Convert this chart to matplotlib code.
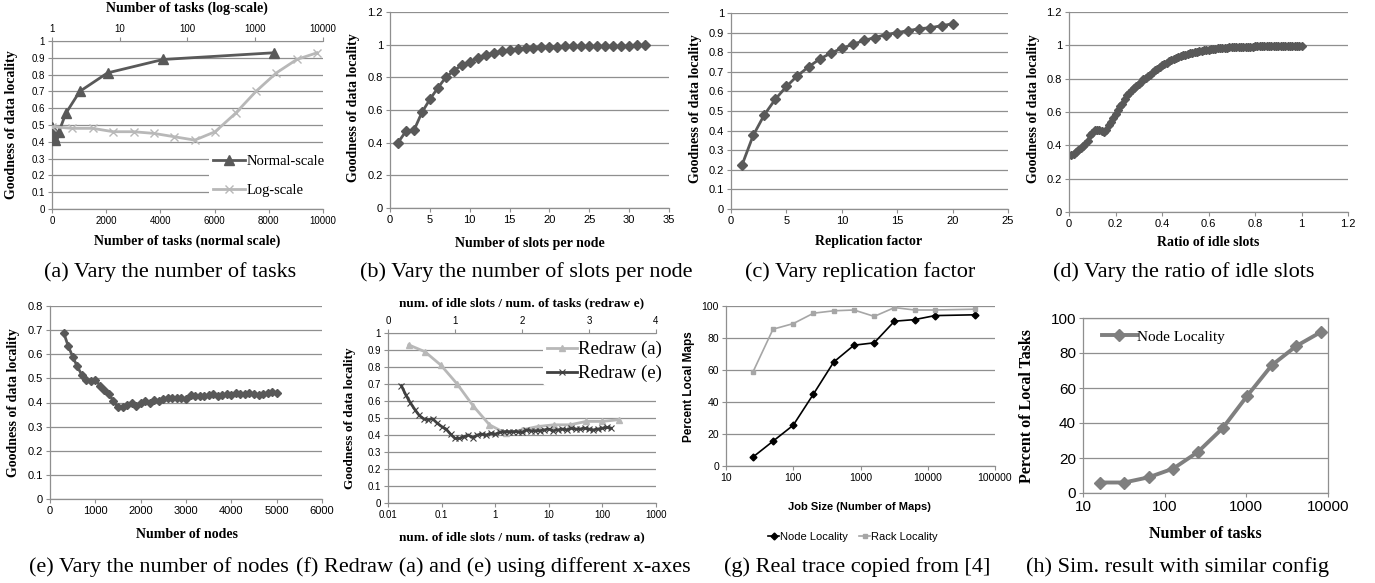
import matplotlib
matplotlib.use("Agg")
import matplotlib.pyplot as plt
from matplotlib.ticker import FixedLocator, NullLocator, FuncFormatter

# ---------------- data ----------------
# (a) number of tasks vs goodness of data locality
tasks_a = [1, 2, 4, 8, 16, 32, 64, 128, 256, 512, 1024, 2048, 4096, 8192]
locality_a = [0.49, 0.48, 0.48, 0.46, 0.46, 0.45, 0.43, 0.41, 0.46, 0.57, 0.70, 0.81, 0.89, 0.93]

# (b) slots per node
slots_b = list(range(1, 33))
locality_b = [0.40, 0.47, 0.475, 0.585, 0.665, 0.735, 0.80, 0.84, 0.875, 0.895, 0.92, 0.935,
              0.95, 0.96, 0.965, 0.972, 0.977, 0.98, 0.983, 0.985, 0.988, 0.99, 0.99, 0.99,
              0.99, 0.99, 0.99, 0.99, 0.99, 0.992, 0.995, 0.995]

# (c) replication factor
repl_c = list(range(1, 21))
locality_c = [0.225, 0.375, 0.48, 0.56, 0.625, 0.68, 0.725, 0.765, 0.795, 0.82, 0.84, 0.86,
              0.875, 0.89, 0.90, 0.91, 0.92, 0.925, 0.935, 0.945]

# (d) ratio of idle slots
ratio_d = [round(0.01 * i, 2) for i in range(1, 101)]
locality_d = [0.345, 0.35, 0.36, 0.37, 0.385, 0.395, 0.41, 0.425, 0.46, 0.475,
              0.49, 0.495, 0.49, 0.485, 0.48, 0.49, 0.52, 0.54, 0.565, 0.59,
              0.61, 0.635, 0.65, 0.68, 0.70, 0.715, 0.73, 0.745, 0.755, 0.77,
              0.78, 0.795, 0.805, 0.815, 0.825, 0.84, 0.85, 0.86, 0.87, 0.88,
              0.885, 0.895, 0.905, 0.91, 0.92, 0.925, 0.93, 0.935, 0.94, 0.945,
              0.948, 0.952, 0.955, 0.958, 0.962, 0.965, 0.968, 0.97, 0.972, 0.974,
              0.976, 0.978, 0.98, 0.981, 0.983, 0.984, 0.985, 0.986, 0.987, 0.988,
              0.989, 0.989, 0.99, 0.99, 0.99, 0.991, 0.991, 0.992, 0.992, 0.993,
              0.993, 0.993, 0.994, 0.994, 0.994, 0.995, 0.995, 0.995, 0.995, 0.996,
              0.996, 0.996, 0.996, 0.996, 0.997, 0.997, 0.997, 0.997, 0.997, 0.997]

# (e) number of nodes
nodes_e = list(range(300, 5001, 100))
locality_e = [0.69, 0.635, 0.59, 0.55, 0.515, 0.495, 0.49, 0.495, 0.47, 0.45,
              0.435, 0.405, 0.38, 0.38, 0.39, 0.40, 0.385, 0.40, 0.405, 0.40,
              0.41, 0.405, 0.415, 0.42, 0.42, 0.42, 0.42, 0.415, 0.43, 0.425,
              0.425, 0.425, 0.43, 0.435, 0.425, 0.43, 0.435, 0.43, 0.44, 0.435,
              0.435, 0.44, 0.435, 0.43, 0.435, 0.44, 0.445, 0.44]

# (f) redraw: x = idle slots / tasks
idle_slots_a = 200      # idle slots used in (a)
tasks_e = 1500          # tasks used in (e)
ratio_fa = [idle_slots_a / t for t in tasks_a]
ratio_fe = [n / tasks_e for n in nodes_e]

# (g) real trace
job_size_g = [25, 50, 100, 200, 400, 800, 1600, 3200, 6400, 12800, 50000]
node_loc_g = [5.5, 15.5, 25.5, 45, 65, 75.5, 77, 90.5, 91.5, 94, 94.5]
rack_loc_g = [58.5, 85.5, 89, 95.5, 97, 97.5, 93.5, 99, 97.5, 97.5, 98]

# (h) simulation
tasks_h = [16, 32, 64, 128, 256, 512, 1024, 2048, 4096, 8192]
node_loc_h = [6, 6, 9, 14, 23.5, 37, 55.5, 73, 84, 92]

captions = ["(a) Vary the number of tasks", "(b) Vary the number of slots per node",
            "(c) Vary replication factor", "(d) Vary the ratio of idle slots",
            "(e) Vary the number of nodes", "(f) Redraw (a) and (e) using different x-axes",
            "(g) Real trace copied from [4]", "(h) Sim. result with similar config"]

# ---------------- style ----------------
W, H = 1375, 583
fig = plt.figure(figsize=(W / 100, H / 100), dpi=100)
fig.patch.set_facecolor("white")

SERIF = "Liberation Serif"
SANS = "Liberation Sans"
GRID = "#8f8f8f"
AXC = "#8f8f8f"
DARK = "#595959"
LIGHT = "#b8b8b8"


def rect(l, r, t, b):
    return [l / W, 1 - b / H, (r - l) / W, (b - t) / H]


def ftext(x, y, s, **kw):
    kw.setdefault("ha", "center")
    kw.setdefault("va", "center")
    fig.text(x / W, 1 - y / H, s, **kw)


def excel(ax, fs=8, family=SANS, box=False):
    for side in ["top", "right"]:
        ax.spines[side].set_visible(box)
    for s in ax.spines.values():
        s.set_color(AXC)
        s.set_linewidth(0.9)
    ax.tick_params(direction="out", length=3, width=0.8, color=AXC, labelsize=fs, pad=2)
    for lab in ax.get_xticklabels() + ax.get_yticklabels():
        lab.set_fontfamily(family)
    ax.yaxis.grid(True, color=GRID, linewidth=0.9)
    ax.set_axisbelow(True)


def fmt_g(v, pos):
    return "%g" % v


# ---------------- (a) ----------------
ax = fig.add_axes(rect(52, 323, 41, 209))
ax.plot(tasks_a, locality_a, color=DARK, lw=2, marker="^", ms=6.5, label="Normal-scale", zorder=3)
ax.set_xlim(0, 10000)
ax.set_ylim(0, 1)
ax.xaxis.set_major_locator(FixedLocator([0, 2000, 4000, 6000, 8000, 10000]))
ax.yaxis.set_major_locator(FixedLocator([i / 10 for i in range(11)]))
ax.yaxis.set_major_formatter(FuncFormatter(fmt_g))
excel(ax, fs=7)
ax2 = ax.twiny()
ax2.plot(tasks_a, locality_a, color=LIGHT, lw=2, marker="x", ms=6, mew=1, label="Log-scale", zorder=2)
ax2.set_xscale("log")
ax2.set_xlim(1, 10000)
ax2.xaxis.set_major_locator(FixedLocator([1, 10, 100, 1000, 10000]))
ax2.xaxis.set_minor_locator(NullLocator())
ax2.xaxis.set_major_formatter(FuncFormatter(fmt_g))
for side in ["right", "bottom", "left"]:
    ax2.spines[side].set_visible(False)
ax2.spines["top"].set_color(AXC)
ax2.tick_params(direction="out", length=3, width=0.8, color=AXC, labelsize=7, pad=2)
for lab in ax2.get_xticklabels():
    lab.set_fontfamily(SANS)
h1, l1 = ax.get_legend_handles_labels()
h2, l2 = ax2.get_legend_handles_labels()
ax2.legend(h1 + h2, l1 + l2, loc="lower right", bbox_to_anchor=(1.05, 0.0),
           prop={"family": SERIF, "size": 10.5}, frameon=True, facecolor="white",
           edgecolor="none", framealpha=1, handlelength=2.2, handletextpad=0.1,
           labelspacing=1.1, borderpad=0.3)
ftext(187, 8, "Number of tasks (log-scale)", family=SERIF, weight="bold", size=10)
ftext(187, 241, "Number of tasks (normal scale)", family=SERIF, weight="bold", size=10)
ftext(12, 125, "Goodness of data locality", family=SERIF, weight="bold", size=10, rotation=90)

# ---------------- (b) ----------------
ax = fig.add_axes(rect(390, 669, 12, 208))
ax.plot(slots_b, locality_b, color=DARK, lw=2, marker="D", ms=5)
ax.set_xlim(0, 35)
ax.set_ylim(0, 1.2)
ax.xaxis.set_major_locator(FixedLocator(range(0, 36, 5)))
ax.yaxis.set_major_locator(FixedLocator([0, 0.2, 0.4, 0.6, 0.8, 1.0, 1.2]))
ax.yaxis.set_major_formatter(FuncFormatter(fmt_g))
excel(ax, fs=8)
ftext(530, 243, "Number of slots per node", family=SERIF, weight="bold", size=10)
ftext(354, 108, "Goodness of data locality", family=SERIF, weight="bold", size=10, rotation=90)

# ---------------- (c) ----------------
ax = fig.add_axes(rect(731, 1008, 13, 209))
ax.plot(repl_c, locality_c, color=DARK, lw=2, marker="D", ms=5)
ax.set_xlim(0, 25)
ax.set_ylim(0, 1)
ax.xaxis.set_major_locator(FixedLocator(range(0, 26, 5)))
ax.yaxis.set_major_locator(FixedLocator([i / 10 for i in range(11)]))
ax.yaxis.set_major_formatter(FuncFormatter(fmt_g))
excel(ax, fs=8)
ftext(869, 242, "Replication factor", family=SERIF, weight="bold", size=10)
ftext(695, 109, "Goodness of data locality", family=SERIF, weight="bold", size=10, rotation=90)

# ---------------- (d) ----------------
ax = fig.add_axes(rect(1069, 1348, 12, 212))
ax.plot(ratio_d, locality_d, color=DARK, lw=2, marker="D", ms=4)
ax.set_xlim(0, 1.2)
ax.set_ylim(0, 1.2)
ax.xaxis.set_major_locator(FixedLocator([0, 0.2, 0.4, 0.6, 0.8, 1.0, 1.2]))
ax.yaxis.set_major_locator(FixedLocator([0, 0.2, 0.4, 0.6, 0.8, 1.0, 1.2]))
ax.xaxis.set_major_formatter(FuncFormatter(fmt_g))
ax.yaxis.set_major_formatter(FuncFormatter(fmt_g))
excel(ax, fs=8)
ftext(1208, 243, "Ratio of idle slots", family=SERIF, weight="bold", size=10)
ftext(1033, 109, "Goodness of data locality", family=SERIF, weight="bold", size=10, rotation=90)

# ---------------- (e) ----------------
ax = fig.add_axes(rect(50, 322, 306, 499))
ax.plot(nodes_e, locality_e, color=DARK, lw=2, marker="D", ms=4.5)
ax.set_xlim(0, 6000)
ax.set_ylim(0, 0.8)
ax.xaxis.set_major_locator(FixedLocator(range(0, 6001, 1000)))
ax.yaxis.set_major_locator(FixedLocator([i / 10 for i in range(9)]))
ax.yaxis.set_major_formatter(FuncFormatter(fmt_g))
excel(ax, fs=8)
ftext(187, 535, "Number of nodes", family=SERIF, weight="bold", size=10)
ftext(14, 403, "Goodness of data locality", family=SERIF, weight="bold", size=10, rotation=90)

# ---------------- (f) ----------------
ax = fig.add_axes(rect(388, 656, 333, 503))
ax.plot(ratio_fa, locality_a, color=LIGHT, lw=2, marker="^", ms=4, label="Redraw (a)", zorder=2)
ax.set_xscale("log")
ax.set_xlim(0.01, 1000)
ax.set_ylim(0, 1)
ax.xaxis.set_major_locator(FixedLocator([0.01, 0.1, 1, 10, 100, 1000]))
ax.xaxis.set_minor_locator(NullLocator())
ax.xaxis.set_major_formatter(FuncFormatter(fmt_g))
ax.yaxis.set_major_locator(FixedLocator([i / 10 for i in range(11)]))
ax.yaxis.set_major_formatter(FuncFormatter(fmt_g))
excel(ax, fs=7)
ax2 = ax.twiny()
ax2.plot(ratio_fe, locality_e, color="#404040", lw=2, marker="x", ms=4, mew=0.8, label="Redraw (e)", zorder=3)
ax2.set_xlim(0, 4)
ax2.xaxis.set_major_locator(FixedLocator([0, 1, 2, 3, 4]))
for side in ["right", "bottom", "left"]:
    ax2.spines[side].set_visible(False)
ax2.spines["top"].set_color(AXC)
ax2.tick_params(direction="out", length=3, width=0.8, color=AXC, labelsize=7, pad=2)
for lab in ax2.get_xticklabels():
    lab.set_fontfamily(SANS)
h1, l1 = ax.get_legend_handles_labels()
h2, l2 = ax2.get_legend_handles_labels()
ax2.legend(h1 + h2, l1 + l2, loc="upper right", bbox_to_anchor=(1.07, 1.03),
           prop={"family": SERIF, "size": 13.5}, frameon=True, facecolor="white",
           edgecolor="none", framealpha=1, handlelength=1.6, handletextpad=0.05,
           labelspacing=0.35, borderpad=0.2)
ftext(522, 303, "num. of idle slots / num. of tasks (redraw e)", family=SERIF, weight="bold", size=9.5)
ftext(522, 537, "num. of idle slots / num. of tasks (redraw a)", family=SERIF, weight="bold", size=9.5)
ftext(350, 418, "Goodness of data locality", family=SERIF, weight="bold", size=9.5, rotation=90)

# ---------------- (g) ----------------
ax = fig.add_axes(rect(726, 995, 306, 466))
ax.plot(job_size_g, node_loc_g, color="black", lw=1.2, marker="D", ms=3.5, label="Node Locality")
ax.plot(job_size_g, rack_loc_g, color="#a6a6a6", lw=1.2, marker="s", ms=3.5, label="Rack Locality")
ax.set_xscale("log")
ax.set_xlim(10, 100000)
ax.set_ylim(0, 100)
ax.xaxis.set_major_locator(FixedLocator([10, 100, 1000, 10000, 100000]))
ax.xaxis.set_minor_locator(NullLocator())
ax.xaxis.set_major_formatter(FuncFormatter(fmt_g))
ax.yaxis.set_major_locator(FixedLocator(range(0, 101, 20)))
excel(ax, fs=7.5)
ax.legend(loc="center", bbox_to_anchor=((853 - 726) / (995 - 726), 1 - (537 - 306) / (466 - 306)),
          ncol=2, frameon=False, prop={"family": SANS, "size": 8}, handlelength=1.0,
          handletextpad=0.1, columnspacing=1.0)
ftext(859, 507, "Job Size (Number of Maps)", family=SANS, weight="bold", size=8)
ftext(689, 387, "Percent Local Maps", family=SANS, weight="bold", size=8.5, rotation=90)

# ---------------- (h) ----------------
ax = fig.add_axes(rect(1083, 1328, 318, 493))
ax.plot(tasks_h, node_loc_h, color="#7f7f7f", lw=2.8, marker="D", ms=6, label="Node Locality")
ax.set_xscale("log")
ax.set_xlim(10, 10000)
ax.set_ylim(0, 100)
ax.xaxis.set_major_locator(FixedLocator([10, 100, 1000, 10000]))
ax.xaxis.set_minor_locator(NullLocator())
ax.xaxis.set_major_formatter(FuncFormatter(fmt_g))
ax.yaxis.set_major_locator(FixedLocator(range(0, 101, 20)))
excel(ax, fs=11, box=True)
ax.legend(loc="upper left", bbox_to_anchor=(0.02, 1.01), frameon=False,
          prop={"family": SERIF, "size": 11}, handlelength=2.3, handletextpad=0.0)
ftext(1205, 534, "Number of tasks", family=SERIF, weight="bold", size=11.5)
ftext(1027, 406, "Percent of Local Tasks", family=SERIF, weight="bold", size=11.5, rotation=90)

# ---------------- captions ----------------
cap_pos = [(170, 272), (526, 272), (860, 272), (1184, 272),
           (159, 567), (493, 567), (857, 567), (1177, 567)]
for (cx, cy), txt in zip(cap_pos, captions):
    ftext(cx, cy, txt, family=SERIF, size=16)

fig.savefig("out.png", dpi=100, facecolor="white")
